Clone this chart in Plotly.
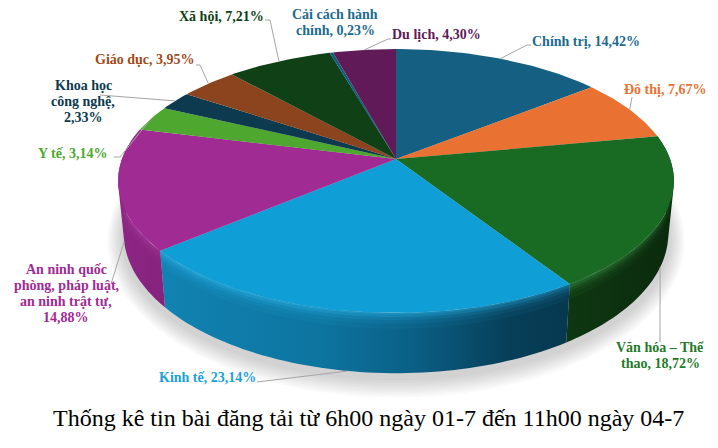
import numpy as np
import plotly.graph_objects as go

# Slice data, clockwise from twelve o'clock
topics = ["Chính trị", "Đô thị", "Văn hóa – Thể thao", "Kinh tế",
          "An ninh quốc phòng, pháp luật, an ninh trật tự", "Y tế",
          "Khoa học công nghệ", "Giáo dục", "Xã hội", "Cải cách hành chính", "Du lịch"]
shares = [14.42, 7.67, 18.72, 23.14, 14.88, 3.14, 2.33, 3.95, 7.21, 0.23, 4.30]
face_colors = ["#156082", "#E97132", "#196B24", "#0F9ED5", "#A02B93", "#4EA72E",
               "#0D3A4E", "#8B441E", "#0F4016", "#095F80", "#601A58"]
label_colors = ["#1D6A8E", "#E97132", "#1F7A2C", "#1C9FD6", "#A02B93", "#4EA72E",
                "#0D3A4E", "#A04A1A", "#0F4016", "#1D6A8E", "#601A58"]
# Wall gradients, left to right, for the slices whose wall faces the viewer
wall_scales = {
    "#196B24": [[0, "#0E3811"], [1, "#0B2A0D"]],
    "#0F9ED5": [[0, "#1183B2"], [0.4, "#0D749F"], [0.62, "#0A5F85"], [0.85, "#073F59"], [1, "#06384F"]],
    "#A02B93": [[0, "#8E2686"], [1, "#85237D"]],
}

label_lines = [["Chính trị, 14,42%"], ["Đô thị, 7,67%"], ["Văn hóa – Thể", "thao, 18,72%"],
               ["Kinh tế, 23,14%"], ["An ninh quốc", "phòng, pháp luật,", "an ninh trật tự,", "14,88%"],
               ["Y tế, 3,14%"], ["Khoa học", "công nghệ,", "2,33%"], ["Giáo dục, 3,95%"],
               ["Xã hội, 7,21%"], ["Cải cách hành", "chính, 0,23%"], ["Du lịch, 4,30%"]]
label_x = [586, 665, 660, 207.5, 66, 72, 83, 145, 221, 335, 436]
label_y = [41, 89, 355, 377, 293.5, 153, 101, 59, 16, 22, 34]
LINE_GAP = 16
# Leader elbows; None means the slice has no leader
leader_mid = [(527, 45), (632, 100), (660, 342), (258, 382), (111, 284), (120, 157),
              (108, 96), (200, 65), (270, 20), None, (388, 39)]
leader_end = [(531, 45), (632, 97), None, (257, 382), None, (114, 157),
              (100, 95), (196, 65), (265, 20), None, (391, 39)]
chart_title = "Thống kê tin bài đăng tải từ 6h00 ngày 01-7 đến 11h00 ngày 04-7"

# Perspective model of the pie disc
CX, CY_TOP, RX_TOP, RY_TOP = 396.0, 159.0, 274.0, 128.3
CY_BOT, RX_BOT, RY_BOT = 210.0, 268.5, 136.0
PERSP = 1 / 6


def project(theta, h=0.0, grow=0.0):
    """Map a disc angle (clockwise from the top) at wall depth h to page coordinates."""
    u, v = np.sin(theta), np.cos(theta)
    d = 1 + PERSP * v
    x_top, y_top = CX + (RX_TOP + grow) * u / d, CY_TOP - (RY_TOP + grow) * v / d
    x_bot, y_bot = CX + (RX_BOT + grow) * u / d, CY_BOT - (RY_BOT + grow) * v / d
    return x_top + (x_bot - x_top) * h, y_top + (y_bot - y_top) * h


def rgba(hex_color, alpha):
    r, g, b = int(hex_color[1:3], 16), int(hex_color[3:5], 16), int(hex_color[5:7], 16)
    return f"rgba({r},{g},{b},{alpha:.3f})"


def lighten(hex_color, f):
    rgb = [int(hex_color[i:i + 2], 16) for i in (1, 3, 5)]
    rgb = [int(c + (255 - c) * f) for c in rgb]
    return "#%02X%02X%02X" % tuple(rgb)


def polygon(x, y, fill=None, gradient=None):
    kw = {"fillgradient": gradient} if gradient else {"fillcolor": fill}
    return go.Scatter(x=x, y=y, mode="lines", fill="toself", line=dict(width=0),
                      hoverinfo="skip", showlegend=False, **kw)


def band(th, h0, h1):
    """Wall band between two depths, as consistently wound quads so the silhouette stays filled."""
    ux, uy = project(th, h0)
    lx, ly = project(th, h1)
    xs, ys = [], []
    for k in range(len(th) - 1):
        qx = [ux[k], ux[k + 1], lx[k + 1], lx[k]]
        qy = [uy[k], uy[k + 1], ly[k + 1], ly[k]]
        area = sum(qx[j] * qy[(j + 1) % 4] - qx[(j + 1) % 4] * qy[j] for j in range(4))
        if area < 0:
            qx, qy = qx[::-1], qy[::-1]
        xs += qx + [qx[0], None]
        ys += qy + [qy[0], None]
    return xs, ys


fracs = np.array(shares) / sum(shares)
edges = np.concatenate([[0], np.cumsum(fracs)]) * 2 * np.pi
mids = (edges[:-1] + edges[1:]) / 2

fig = go.Figure()

# Soft shadow beneath the disc
ring = np.linspace(0, 2 * np.pi, 240)
for grow in range(16, 0, -2):
    sx, sy = project(ring, 1.0, grow=grow)
    fig.add_trace(polygon(sx, sy + 5, fill="rgba(90,90,90,0.035)"))

# Outer wall of the slices facing the viewer
for i, color in enumerate(face_colors):
    if color not in wall_scales:
        continue
    th = np.linspace(edges[i], edges[i + 1], 60)
    x, y = band(th, 0.0, 1.0)
    fig.add_trace(polygon(x, y, gradient=dict(type="horizontal", colorscale=wall_scales[color])))

# Rounded bevel just below the rim of those slices
BEVEL = [(0.0, 0.03, 0.95), (0.03, 0.07, 0.7), (0.07, 0.12, 0.42), (0.12, 0.18, 0.22), (0.18, 0.26, 0.1)]
for i, color in enumerate(face_colors):
    if color not in wall_scales:
        continue
    th = np.linspace(edges[i], edges[i + 1], 60)
    tint = lighten(color, 0.08)
    for h0, h1, alpha in BEVEL:
        x, y = band(th, h0, h1)
        grad = dict(type="horizontal",
                    colorscale=[[0, rgba(tint, alpha)], [1, rgba(tint, alpha * 0.55)]])
        fig.add_trace(polygon(x, y, gradient=grad))

# Top face
for i, color in enumerate(face_colors):
    th = np.linspace(edges[i], edges[i + 1], max(6, int(fracs[i] * 400)))
    rx, ry = project(th, 0.0)
    x = [CX] + list(rx) + [CX]
    y = [CY_TOP] + list(ry) + [CY_TOP]
    fig.add_trace(polygon(x, y, fill=color))

# Leader lines start on the rim at each slice's middle angle
for i, elbow in enumerate(leader_mid):
    if elbow is None:
        continue
    theta = mids[i]
    on_wall = np.cos(theta) < -0.2
    sx, sy = project(np.array([theta]), 1.0 if on_wall else 0.0)
    xs, ys = [sx[0], elbow[0]], [sy[0], elbow[1]]
    if leader_end[i]:
        xs.append(leader_end[i][0])
        ys.append(leader_end[i][1])
    fig.add_trace(go.Scatter(x=xs, y=ys, mode="lines", line=dict(color="#A6A6A6", width=1),
                             hoverinfo="skip", showlegend=False))

annotations = []
for x, y, lines, c in zip(label_x, label_y, label_lines, label_colors):
    top = y - LINE_GAP * (len(lines) - 1) / 2
    for n, line in enumerate(lines):
        annotations.append(dict(x=x, y=top + n * LINE_GAP, text=f"<b>{line}</b>", showarrow=False,
                                xanchor="center", yanchor="middle",
                                font=dict(family="Liberation Serif", size=14, color=c)))
annotations.append(dict(x=368.5, y=418, text=chart_title, showarrow=False, xanchor="center",
                        yanchor="middle", font=dict(family="Liberation Serif", size=24, color="#000000")))

fig.update_layout(
    width=718, height=448, margin=dict(l=0, r=0, t=0, b=0),
    paper_bgcolor="white", plot_bgcolor="white", showlegend=False,
    xaxis=dict(range=[0, 718], visible=False, fixedrange=True),
    yaxis=dict(range=[448, 0], visible=False, fixedrange=True),
    annotations=annotations,
)
fig.write_html("out.html", config={"displayModeBar": False})
